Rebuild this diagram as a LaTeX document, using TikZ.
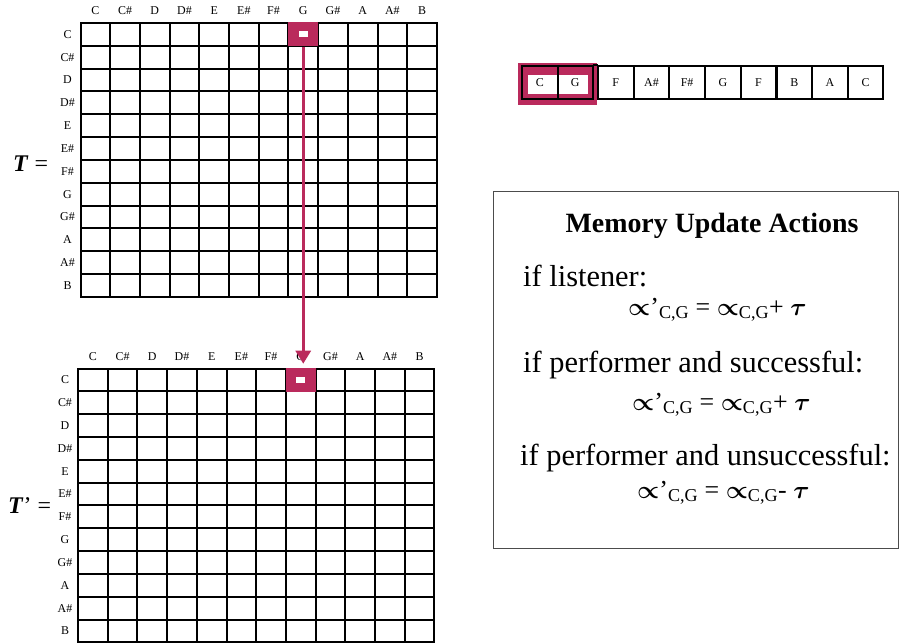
\documentclass[tikz,border=0pt]{standalone}
\usepackage{fontspec}
\setmainfont{Liberation Serif}
\usepackage{amsmath,bm}
\usetikzlibrary{arrows.meta,positioning}
\definecolor{notecrimson}{HTML}{BA2A5C}
\newcommand{\memprop}{\ensuremath{\bm{\propto}}}

\tikzset{
  gridline/.style={line width=2bp,black,line cap=rect},
  notelabel/.style={font=\fontsize{12}{12}\selectfont,inner sep=0pt},
  hicell/.style={fill=notecrimson,minimum width=30bp,minimum height=24bp,inner sep=0pt,
    path picture={\fill[white] ([xshift=-4.5bp,yshift=-3bp]path picture bounding box.center)
      rectangle ([xshift=4.5bp,yshift=3bp]path picture bounding box.center);}},
  seqcell/.style={draw,line width=2bp,minimum width=35.5bp,minimum height=33bp,
    inner sep=0pt,font=\fontsize{12}{12}\selectfont},
  boxtext/.style={font=\fontsize{30.5}{30.5}\selectfont,inner sep=0pt,anchor=base west},
  eqtext/.style={font=\fontsize{26}{26}\selectfont,inner sep=0pt,anchor=base west,text height=15bp},
}

\begin{document}
\begin{tikzpicture}[x=1bp,y=-1bp]
  \useasboundingbox (0,0) rectangle (899,644);
  \def\cw{29.7}
  \def\rh{22.83}

  % the two transition tables
  \foreach \g/\ox/\oy in {t/80.5/23, b/78/368.5} {
    \foreach \i in {0,...,12} {
      \draw[gridline] ({\ox+\i*\cw},\oy) -- ({\ox+\i*\cw},{\oy+12*\rh});
      \draw[gridline] (\ox,{\oy+\i*\rh}) -- ({\ox+12*\cw},{\oy+\i*\rh});
    }
    \foreach \n [count=\k from 0] in {C,C\#,D,D\#,E,E\#,F\#,G,G\#,A,A\#,B} {
      \node[notelabel] (\g c\k) at ({\ox+(\k+0.5)*\cw},{\oy-12}) {\n};
      \node[notelabel] (\g r\k) at ({\ox-13},{\oy+(\k+0.5)*\rh}) {\n};
    }
  }
  \node[font=\fontsize{24}{24}\selectfont,inner sep=0pt,anchor=base west] (Ttop) at (13,172) {\textbf{\textit{T}} =};
  \node[font=\fontsize{24}{24}\selectfont,inner sep=0pt,anchor=base west] (Tbot) at (8,513) {\textbf{\textit{T}}’ =};

  % highlighted cells and the update arrow
  \node[hicell] (tG) at ({80.5+7.5*\cw},{23+0.5*\rh}) {};
  \node[hicell] (bG) at ({78+7.5*\cw},{368.5+0.5*\rh}) {};
  \draw[notecrimson,line width=3bp,-{Triangle[width=15bp,length=13bp]},shorten >=4bp]
    (tG.south) -- (tG.south |- bG.north);

  % played sequence, first pair framed
  \fill[notecrimson] (518,63) rectangle (597,105);
  \fill[white] (528,75) rectangle (588,94);
  \node[seqcell,anchor=north west] (s1) at (521,65) {C};
  \node[seqcell,anchor=north west] (s2) at (556.5,65) {G};
  \foreach \n [count=\k from 3] in {F,A\#,F\#,G,F,B,A,C}
    \node[seqcell,fill=white,anchor=north west] (s\k) at ({597+(\k-3)*35.7},65) {\n};
  \draw[gridline] (s2.north east) -- (s3.north west);

  % memory update box
  \node[draw=black!70,line width=1bp,minimum width=405bp,minimum height=356bp,inner sep=0pt] (memory) at (695.5,370) {};
  \node[font=\bfseries\fontsize{28}{28}\selectfont,inner sep=0pt,anchor=base] (memtitle) at (712,233) {Memory Update Actions};
  \node[boxtext] (ifl) at (523,286) {if listener:};
  \node[eqtext] (eql) at (628,315) {\memprop’\textsubscript{C,G} = \memprop\textsubscript{C,G}+ \ensuremath{\bm{\tau}}};
  \node[boxtext] (ifs) at (523,372) {if performer and successful:};
  \node[eqtext] (eqs) at (632,410) {\memprop’\textsubscript{C,G} = \memprop\textsubscript{C,G}+ \ensuremath{\bm{\tau}}};
  \node[boxtext] (ifu) at (520,465) {if performer and unsuccessful:};
  \node[eqtext] (equ) at (637,498) {\memprop’\textsubscript{C,G} = \memprop\textsubscript{C,G}- \ensuremath{\bm{\tau}}};
\end{tikzpicture}
\end{document}
